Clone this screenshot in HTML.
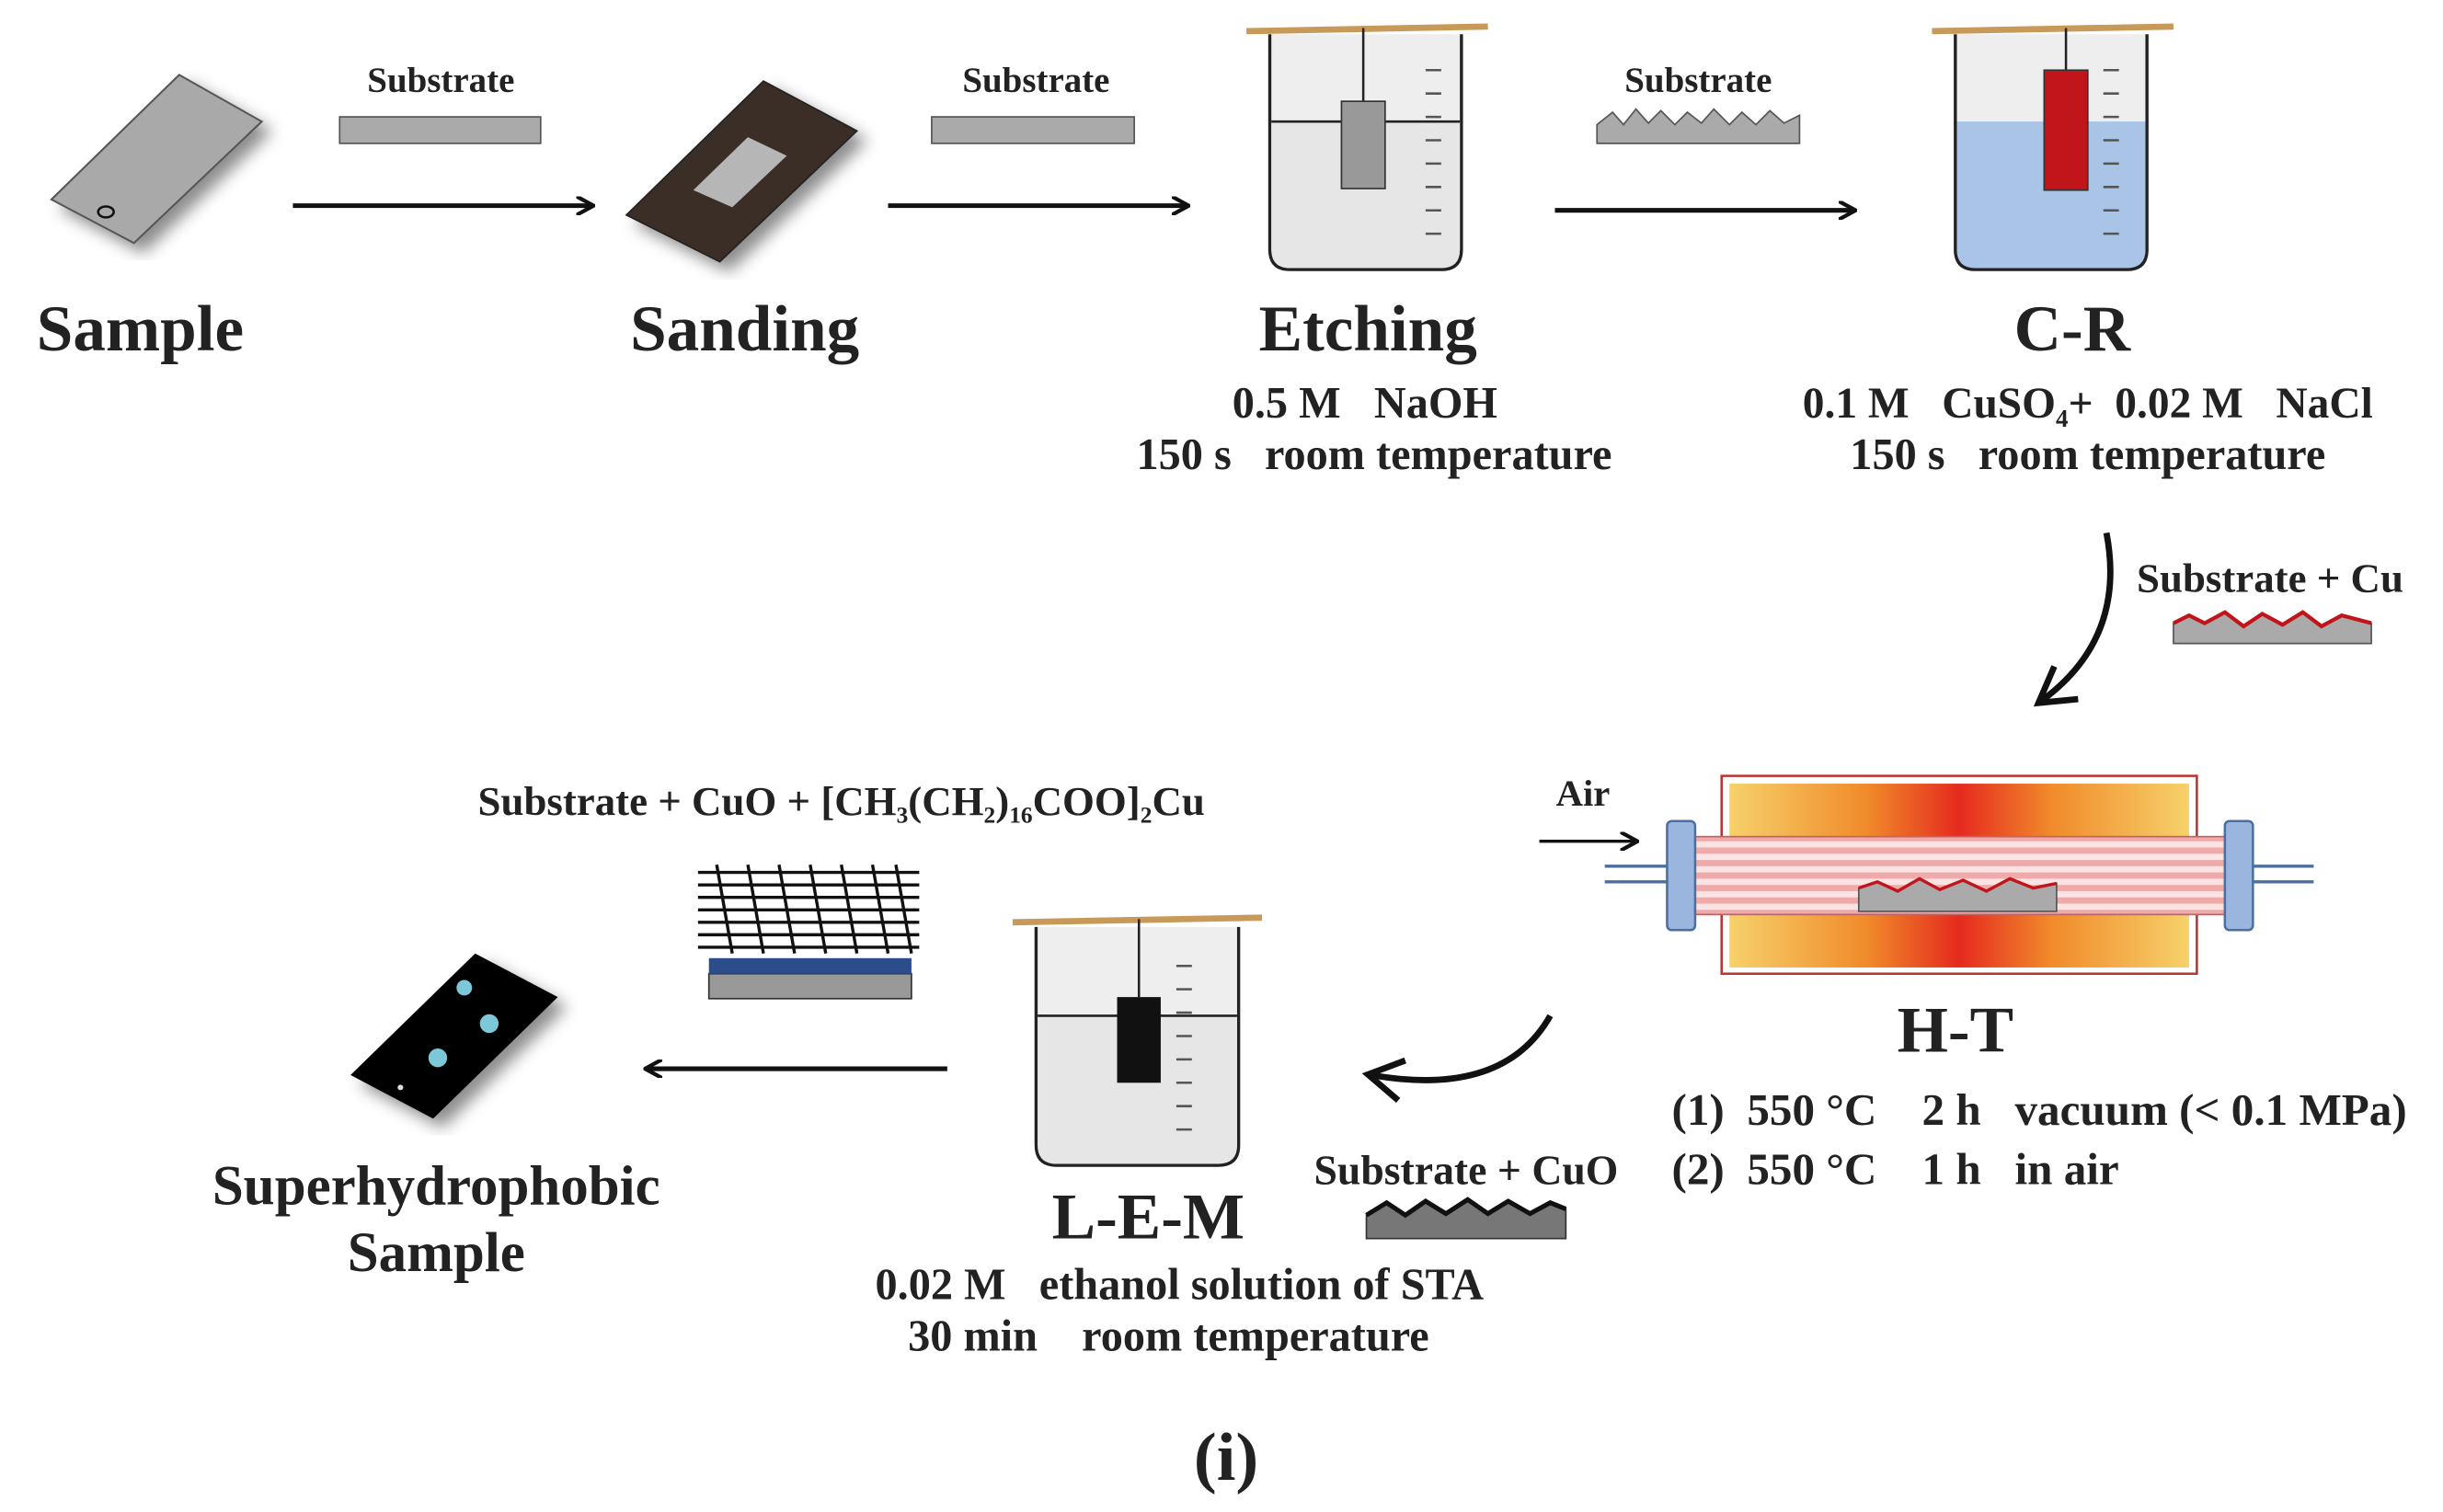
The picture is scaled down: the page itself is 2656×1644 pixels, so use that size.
<!DOCTYPE html>
<html><head><meta charset="utf-8"><style>
html,body{margin:0;padding:0;background:#fff}
svg{display:block}
text{font-family:"Liberation Serif",serif;font-weight:bold;fill:#222}
</style></head><body>
<svg width="2656" height="1644" viewBox="0 0 1568 970.5" xmlns="http://www.w3.org/2000/svg">
<defs>
<marker id="ah" markerWidth="12" markerHeight="12" refX="10" refY="6" orient="auto" markerUnits="userSpaceOnUse"><path d="M0,0 L11,6 L0,12" fill="none" stroke="#111" stroke-width="2.5"/></marker>
<marker id="ah2" markerWidth="30" markerHeight="30" refX="22" refY="15" orient="auto" markerUnits="userSpaceOnUse"><path d="M2,2 L24,15 L2,28" fill="none" stroke="#111" stroke-width="4"/></marker>
<linearGradient id="heat" x1="0" x2="1"><stop offset="0" stop-color="#f6d16a"/><stop offset="0.3" stop-color="#f08a2a"/><stop offset="0.5" stop-color="#e52a1e"/><stop offset="0.7" stop-color="#f08a2a"/><stop offset="1" stop-color="#f6d16a"/></linearGradient>
<pattern id="stripe" width="8" height="8" patternUnits="userSpaceOnUse"><rect width="8" height="8" fill="#fbe3e3"/><rect width="8" height="4" fill="#f0aaaa"/></pattern>
<filter id="sh"><feDropShadow dx="6" dy="6" stdDeviation="5" flood-opacity="0.45"/></filter>
</defs>

<!-- Sample -->
<polygon points="33,128 115,48 168,78 86,156" fill="#a9a9a9" stroke="#555" stroke-width="1.2" filter="url(#sh)"/>
<ellipse cx="68" cy="136" rx="5" ry="3.5" fill="none" stroke="#111" stroke-width="1.5"/>
<text x="90" y="225" font-size="42" text-anchor="middle">Sample</text>

<text x="283" y="59" font-size="23" text-anchor="middle">Substrate</text>
<rect x="218" y="75" width="129" height="17" fill="#aaa" stroke="#555"/>
<line x1="188" y1="132" x2="380" y2="132" stroke="#111" stroke-width="3" marker-end="url(#ah)"/>

<!-- Sanding -->
<polygon points="402,138 490,52 550,84 462,168" fill="#3a2e25" stroke="#222" filter="url(#sh)"/>
<polygon points="445,122 480,88 505,100 470,133" fill="#b6b6b6"/>
<text x="478" y="225" font-size="42" text-anchor="middle">Sanding</text>

<text x="665" y="59" font-size="23" text-anchor="middle">Substrate</text>
<rect x="598" y="75" width="130" height="17" fill="#aaa" stroke="#555"/>
<line x1="570" y1="132" x2="762" y2="132" stroke="#111" stroke-width="3" marker-end="url(#ah)"/>

<!-- Beaker 1 -->
<g>
<path d="M815,22 L815,160 Q815,173 828,173 L925,173 Q938,173 938,160 L938,22" fill="#eee" stroke="#222" stroke-width="2"/>
<path d="M816,78 L937,78 L937,160 Q937,172 925,172 L828,172 Q816,172 816,160Z" fill="#e6e6e6"/>
<line x1="816" y1="78" x2="937" y2="78" stroke="#222" stroke-width="1.5"/>
<line x1="800" y1="20" x2="955" y2="17" stroke="#c89a5a" stroke-width="4"/>
<line x1="875" y1="18" x2="875" y2="65" stroke="#222" stroke-width="1.5"/>
<rect x="861" y="65" width="28" height="56" fill="#999" stroke="#333"/>
<g stroke="#555" stroke-width="1.5">
<line x1="915" y1="45" x2="925" y2="45"/><line x1="915" y1="60" x2="925" y2="60"/><line x1="915" y1="75" x2="925" y2="75"/><line x1="915" y1="90" x2="925" y2="90"/><line x1="915" y1="105" x2="925" y2="105"/><line x1="915" y1="120" x2="925" y2="120"/><line x1="915" y1="135" x2="925" y2="135"/><line x1="915" y1="150" x2="925" y2="150"/></g>
</g>
<text x="878" y="225" font-size="42" text-anchor="middle">Etching</text>
<text x="876" y="268" font-size="28.5" text-anchor="middle" xml:space="preserve">0.5 M   NaOH</text>
<text x="882" y="301" font-size="28.5" text-anchor="middle" xml:space="preserve">150 s   room temperature</text>

<text x="1090" y="59" font-size="23" text-anchor="middle">Substrate</text>
<path d="M1025,92 L1025,80 L1035,72 L1042,80 L1050,70 L1058,79 L1066,71 L1075,80 L1083,72 L1092,79 L1100,70 L1110,80 L1118,72 L1127,80 L1136,71 L1145,79 L1155,74 L1155,92Z" fill="#aaa" stroke="#555"/>
<line x1="998" y1="135" x2="1190" y2="135" stroke="#111" stroke-width="3" marker-end="url(#ah)"/>

<!-- Beaker 2 -->
<g>
<path d="M1255,22 L1255,160 Q1255,173 1268,173 L1365,173 Q1378,173 1378,160 L1378,22" fill="#eee" stroke="#222" stroke-width="2"/>
<path d="M1256,78 L1377,78 L1377,160 Q1377,172 1365,172 L1268,172 Q1256,172 1256,160Z" fill="#a9c4e6"/>
<line x1="1240" y1="20" x2="1395" y2="17" stroke="#c89a5a" stroke-width="4"/>
<line x1="1326" y1="18" x2="1326" y2="45" stroke="#222" stroke-width="1.5"/>
<rect x="1312" y="45" width="28" height="77" fill="#c0161b" stroke="#333"/>
<g stroke="#555" stroke-width="1.5">
<line x1="1350" y1="45" x2="1360" y2="45"/><line x1="1350" y1="60" x2="1360" y2="60"/><line x1="1350" y1="75" x2="1360" y2="75"/><line x1="1350" y1="90" x2="1360" y2="90"/><line x1="1350" y1="105" x2="1360" y2="105"/><line x1="1350" y1="120" x2="1360" y2="120"/><line x1="1350" y1="135" x2="1360" y2="135"/><line x1="1350" y1="150" x2="1360" y2="150"/></g>
</g>
<text x="1330" y="225" font-size="42" text-anchor="middle">C-R</text>
<text x="1340" y="268" font-size="28" text-anchor="middle" xml:space="preserve">0.1 M   CuSO<tspan font-size="16" dy="6">4</tspan><tspan dy="-6">+  0.02 M   NaCl</tspan></text>
<text x="1340" y="301" font-size="28.5" text-anchor="middle" xml:space="preserve">150 s   room temperature</text>

<!-- curved arrow 1 -->
<path d="M1352,342 Q1365,410 1310,450" fill="none" stroke="#111" stroke-width="4" marker-end="url(#ah2)"/>
<text x="1457" y="380" font-size="26.5" text-anchor="middle">Substrate + Cu</text>
<path d="M1395,413 L1395,400 L1405,395 L1415,400 L1428,393 L1440,402 L1452,394 L1465,401 L1478,393 L1490,402 L1503,395 L1522,400 L1522,413Z" fill="#aaa" stroke="#555"/>
<path d="M1395,400 L1405,395 L1415,400 L1428,393 L1440,402 L1452,394 L1465,401 L1478,393 L1490,402 L1503,395 L1522,400" fill="none" stroke="#c0161b" stroke-width="2.5"/>

<!-- Furnace -->
<rect x="1105" y="498" width="305" height="127" fill="#fff" stroke="#b33" stroke-width="1.5"/>
<rect x="1110" y="503" width="295" height="45" fill="url(#heat)"/>
<rect x="1110" y="577" width="295" height="44" fill="url(#heat)"/>
<line x1="1030" y1="556" x2="1075" y2="556" stroke="#4a6fa0" stroke-width="2"/>
<line x1="1030" y1="566" x2="1075" y2="566" stroke="#4a6fa0" stroke-width="2"/>
<line x1="1440" y1="556" x2="1485" y2="556" stroke="#4a6fa0" stroke-width="2"/>
<line x1="1440" y1="566" x2="1485" y2="566" stroke="#4a6fa0" stroke-width="2"/>
<rect x="1085" y="537" width="345" height="50" fill="url(#stripe)" stroke="#b66"/>
<rect x="1070" y="527" width="18" height="70" rx="3" fill="#9ab6de" stroke="#4a6fa0" stroke-width="1.5"/>
<rect x="1428" y="527" width="18" height="70" rx="3" fill="#9ab6de" stroke="#4a6fa0" stroke-width="1.5"/>
<path d="M1193,585 L1193,570 L1205,566 L1218,572 L1232,564 L1245,571 L1260,565 L1275,572 L1290,564 L1305,570 L1320,567 L1320,585Z" fill="#aaa" stroke="#555"/>
<path d="M1193,570 L1205,566 L1218,572 L1232,564 L1245,571 L1260,565 L1275,572 L1290,564 L1305,570 L1320,567" fill="none" stroke="#c0161b" stroke-width="2"/>
<text x="1016" y="517" font-size="24" text-anchor="middle">Air</text>
<line x1="988" y1="540" x2="1050" y2="540" stroke="#111" stroke-width="2" marker-end="url(#ah)"/>
<text x="1255" y="675" font-size="42" text-anchor="middle">H-T</text>
<text x="1073" y="722" font-size="29" xml:space="preserve">(1)  550 °C    2 h   vacuum (&lt; 0.1 MPa)</text>
<text x="1073" y="760" font-size="29" xml:space="preserve">(2)  550 °C    1 h   in air</text>

<!-- curved arrow 2 -->
<path d="M995,652 Q965,705 880,690" fill="none" stroke="#111" stroke-width="4" marker-end="url(#ah2)"/>
<text x="941" y="760" font-size="27" text-anchor="middle">Substrate + CuO</text>
<path d="M877,795 L877,780 L890,772 L902,780 L915,771 L928,779 L942,770 L955,779 L968,771 L982,779 L995,772 L1005,776 L1005,795Z" fill="#777" stroke="#333"/>
<path d="M877,780 L890,772 L902,780 L915,771 L928,779 L942,770 L955,779 L968,771 L982,779 L995,772 L1005,776" fill="none" stroke="#111" stroke-width="3"/>

<!-- Beaker 3 -->
<g>
<path d="M665,595 L665,735 Q665,748 678,748 L782,748 Q795,748 795,735 L795,595" fill="#eee" stroke="#222" stroke-width="2"/>
<path d="M666,652 L794,652 L794,735 Q794,747 782,747 L678,747 Q666,747 666,735Z" fill="#e6e6e6"/>
<line x1="666" y1="652" x2="794" y2="652" stroke="#222" stroke-width="1.5"/>
<line x1="650" y1="592" x2="810" y2="589" stroke="#c89a5a" stroke-width="4"/>
<line x1="731" y1="590" x2="731" y2="640" stroke="#222" stroke-width="1.5"/>
<rect x="717" y="640" width="28" height="55" fill="#111"/>
<g stroke="#555" stroke-width="1.5">
<line x1="755" y1="620" x2="765" y2="620"/><line x1="755" y1="635" x2="765" y2="635"/><line x1="755" y1="650" x2="765" y2="650"/><line x1="755" y1="665" x2="765" y2="665"/><line x1="755" y1="680" x2="765" y2="680"/><line x1="755" y1="695" x2="765" y2="695"/><line x1="755" y1="710" x2="765" y2="710"/><line x1="755" y1="725" x2="765" y2="725"/></g>
</g>
<text x="737" y="795" font-size="42" text-anchor="middle">L-E-M</text>
<text x="757" y="834" font-size="28.5" text-anchor="middle" xml:space="preserve">0.02 M   ethanol solution of STA</text>
<text x="750" y="867" font-size="28.5" text-anchor="middle" xml:space="preserve">30 min    room temperature</text>

<line x1="608" y1="686" x2="415" y2="686" stroke="#111" stroke-width="3" marker-end="url(#ah)"/>

<text x="540" y="523" font-size="26.5" text-anchor="middle">Substrate + CuO + [CH<tspan font-size="15" dy="5">3</tspan><tspan dy="-5">(CH</tspan><tspan font-size="15" dy="5">2</tspan><tspan dy="-5">)</tspan><tspan font-size="15" dy="5">16</tspan><tspan dy="-5">COO]</tspan><tspan font-size="15" dy="5">2</tspan><tspan dy="-5">Cu</tspan></text>
<!-- molecules image -->
<g>
<rect x="455" y="625" width="130" height="16" fill="#999" stroke="#333"/>
<rect x="455" y="615" width="130" height="10" fill="#2b4d8c"/>
<g stroke="#111" stroke-width="2" fill="none">
<path d="M448,560 L590,560 M448,568 L590,568 M448,576 L590,576 M448,584 L590,584 M448,592 L590,592 M448,600 L590,600 M448,608 L590,608"/>
<path d="M460,555 L470,612 M480,555 L490,612 M500,555 L510,612 M520,555 L530,612 M540,555 L550,612 M560,555 L570,612 M575,555 L585,612"/>
</g>
</g>

<!-- Superhydrophobic sample -->
<polygon points="225,690 305,612 358,640 278,718" fill="#050505" filter="url(#sh)"/>
<circle cx="298" cy="634" r="5" fill="#7cc8d8"/>
<circle cx="314" cy="657" r="6" fill="#7cc8d8"/>
<circle cx="281" cy="679" r="6" fill="#7cc8d8"/>
<circle cx="257" cy="698" r="1.8" fill="#ddd"/>
<text x="280" y="773" font-size="36" text-anchor="middle">Superhydrophobic</text>
<text x="280" y="816" font-size="36" text-anchor="middle">Sample</text>

<text x="787" y="950" font-size="44" text-anchor="middle">(i)</text>
</svg>
</body></html>
